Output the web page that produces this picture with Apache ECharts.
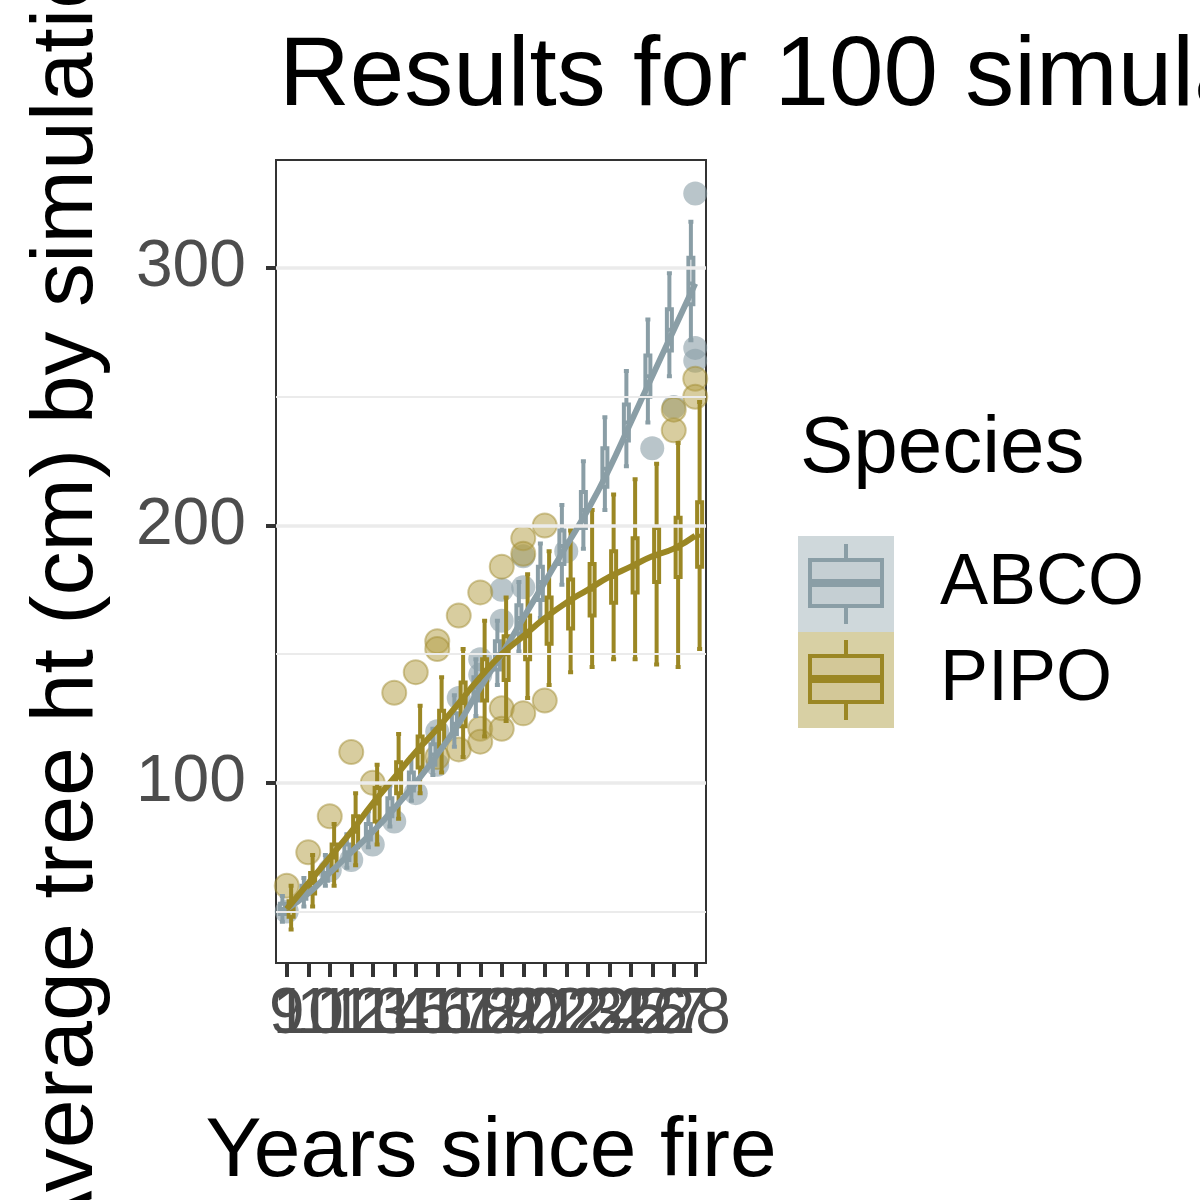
<!DOCTYPE html>
<html>
<head>
<meta charset="utf-8">
<script src="https://cdn.jsdelivr.net/npm/echarts@6/dist/echarts.min.js"></script>
<style>html,body{margin:0;padding:0;background:#fff}#main{width:1200px;height:1200px}</style>
</head>
<body>
<div id="main"></div>
<script>
const years = ['9','10','11','12','13','14','15','16','17','18','19','20','21','22','23','24','25','26','27','28'];

// ABCO box stats
const abcoLow  = [46, 52, 60, 67, 75, 83, 93, 103, 114, 126, 138, 151, 164, 177, 191, 206, 223, 240, 258, 272];
const abcoQ1   = [49, 55, 62, 70, 78, 87, 97, 107, 119, 132, 144, 158, 171, 185, 199, 215, 233, 250, 268, 286];
const abcoMed  = [51, 57, 65, 73, 81, 90, 100, 111, 123, 137, 150, 164, 178, 192, 206, 222, 240, 258, 276, 294];
const abcoQ3   = [53, 60, 68, 76, 84, 94, 104, 115, 127, 141, 155, 169, 184, 198, 213, 230, 247, 266, 284, 304];
const abcoHigh = [56, 63, 72, 80, 89, 99, 110, 121, 134, 148, 163, 178, 193, 208, 225, 242, 260, 280, 298, 318];
const abcoOut  = [['9',50],['11',66],['12',70],['13',76],['14',85],['15',96],['16',107],['16',120],['17',133],['18',148],
                  ['18',142],['19',163],['19',175],['20',176],['20',188],['22',190],['26',230],['27',246],['28',329],['28',269],['28',264]];

// PIPO box stats
const pipoLow  = [43, 52, 60, 68, 76, 86, 96, 104, 110, 118, 124, 133, 138, 143, 145, 148, 148, 146, 145, 152];
const pipoQ1   = [48, 57, 66, 75, 85, 96, 106, 114, 122, 132, 140, 148, 154, 160, 165, 170, 174, 178, 180, 184];
const pipoMed  = [51, 61, 71, 81, 92, 102, 112, 121, 131, 141, 150, 157, 164, 170, 175, 180, 184, 188, 191, 196];
const pipoQ3   = [54, 65, 76, 87, 98, 108, 118, 128, 139, 148, 157, 165, 172, 179, 185, 190, 195, 199, 203, 209];
const pipoHigh = [60, 72, 84, 96, 107, 119, 130, 141, 152, 163, 172, 181, 190, 198, 206, 212, 218, 224, 232, 248];
const pipoOut  = [['9',60],['10',73],['11',87],['12',112],['13',100],['14',135],['15',143],['16',155],['16',152],['16',110],
                  ['17',165],['17',113],['18',174],['18',121],['18',116],['19',184],['19',129],['19',121],['20',195],['20',189],
                  ['20',127],['21',200],['21',132],['27',237],['27',245],['28',257],['28',250]];

const gridValues = [50, 100, 150, 200, 250, 300];
const yLabels = [100, 200, 300];

const abcoCol = '#8a9ea6';
const pipoCol = '#9b8724';

function boxData(lo, q1, md, q3, hi) {
  return lo.map((v, i) => [v, q1[i], md[i], q3[i], hi[i]]);
}

const chart = echarts.init(document.getElementById('main'));
const font = 'Liberation Sans, Arial, sans-serif';

chart.setOption({
  animation: false,
  title: {
    text: 'Results for 100 simulations',
    left: 274, top: 24,
    textStyle: { fontSize: 98, fontWeight: 'normal', color: '#000', fontFamily: font }
  },
  grid: {
    left: 276, top: 160, width: 430, height: 812,
    show: true, borderColor: '#333', borderWidth: 2, backgroundColor: '#fff'
  },
  xAxis: {
    type: 'category', data: years,
    axisLine: { show: false },
    axisTick: { show: true, alignWithLabel: true, length: 14, lineStyle: { color: '#333', width: 4 } },
    axisLabel: { fontSize: 64, color: '#4d4d4d', interval: 0, margin: 20, fontFamily: font },
    name: 'Years since fire', nameLocation: 'middle', nameGap: 148,
    nameTextStyle: { fontSize: 84, color: '#000', fontFamily: font }
  },
  yAxis: {
    type: 'value', min: 30, max: 342,
    splitLine: { show: false },
    axisLine: { show: false },
    axisTick: { show: true, length: 10, customValues: yLabels, lineStyle: { color: '#333', width: 4 } },
    axisLabel: { fontSize: 66, color: '#4d4d4d', margin: 30, customValues: yLabels, fontFamily: font }
  },
  graphic: [
    { type: 'text', x: 68, y: 580, rotation: Math.PI / 2, style: {
        text: 'Average tree ht (cm) by simulation', fontSize: 88, fill: '#000', fontFamily: font,
        align: 'center', verticalAlign: 'middle' } },
    { type: 'text', left: 800, top: 410, style: { text: 'Species', fontSize: 80, fill: '#000', fontFamily: font } },
    { type: 'rect', shape: { x: 798, y: 536, width: 96, height: 96 }, style: { fill: '#cfd8db' } },
    { type: 'rect', shape: { x: 798, y: 632, width: 96, height: 96 }, style: { fill: '#d8d0a4' } },
    { type: 'line', shape: { x1: 846, y1: 544, x2: 846, y2: 624 }, style: { stroke: abcoCol, lineWidth: 4 } },
    { type: 'rect', shape: { x: 810, y: 560, width: 72, height: 46 }, style: { fill: '#c5cfd3', stroke: abcoCol, lineWidth: 4 } },
    { type: 'line', shape: { x1: 810, y1: 583, x2: 882, y2: 583 }, style: { stroke: abcoCol, lineWidth: 8 } },
    { type: 'line', shape: { x1: 846, y1: 640, x2: 846, y2: 720 }, style: { stroke: pipoCol, lineWidth: 4 } },
    { type: 'rect', shape: { x: 810, y: 656, width: 72, height: 46 }, style: { fill: '#d3c898', stroke: pipoCol, lineWidth: 4 } },
    { type: 'line', shape: { x1: 810, y1: 679, x2: 882, y2: 679 }, style: { stroke: pipoCol, lineWidth: 8 } },
    { type: 'text', left: 940, top: 548, style: { text: 'ABCO', fontSize: 72, fill: '#000', fontFamily: font } },
    { type: 'text', left: 940, top: 644, style: { text: 'PIPO', fontSize: 72, fill: '#000', fontFamily: font } }
  ],
  series: [
    {
      type: 'line', data: [], silent: true,
      markLine: {
        symbol: 'none', silent: true, label: { show: false },
        data: gridValues.map(v => ({ yAxis: v, lineStyle: { color: '#ebebeb', width: v % 100 === 0 ? 3.5 : 1.8, type: 'solid' } }))
      }
    },
    {
      name: 'ABCO', type: 'scatter', data: abcoOut, symbolSize: 24,
      itemStyle: { color: 'rgba(138,158,166,0.75)' }, z: 2
    },
    {
      name: 'PIPO', type: 'scatter', data: pipoOut, symbolSize: 24,
      itemStyle: { color: 'rgba(180,160,70,0.65)', borderColor: 'rgba(160,140,50,0.6)', borderWidth: 2 }, z: 2
    },
    {
      name: 'ABCO', type: 'boxplot', data: boxData(abcoLow, abcoQ1, abcoMed, abcoQ3, abcoHigh),
      boxWidth: [5, 5],
      itemStyle: { color: '#f4f6f7', borderColor: abcoCol, borderWidth: 4 }, z: 3
    },
    {
      name: 'PIPO', type: 'boxplot', data: boxData(pipoLow, pipoQ1, pipoMed, pipoQ3, pipoHigh),
      boxWidth: [5, 5],
      itemStyle: { color: '#f6f3e2', borderColor: pipoCol, borderWidth: 4 }, z: 3
    },
    {
      name: 'ABCO', type: 'line', data: abcoMed, smooth: true, showSymbol: false,
      lineStyle: { color: abcoCol, width: 6 }, z: 4
    },
    {
      name: 'PIPO', type: 'line', data: pipoMed, smooth: true, showSymbol: false,
      lineStyle: { color: pipoCol, width: 6 }, z: 4
    }
  ]
});
</script>
</body>
</html>
